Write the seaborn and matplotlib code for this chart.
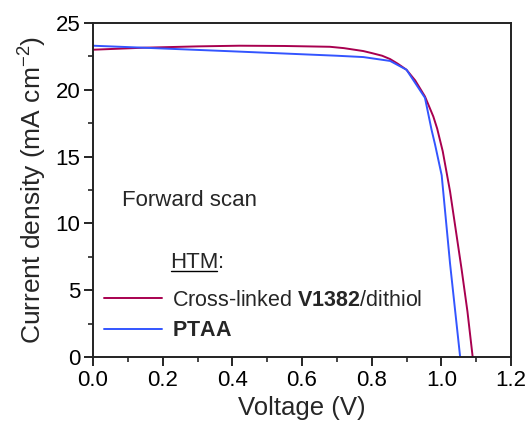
import numpy as np
import pandas as pd
import matplotlib
matplotlib.use("Agg")
import matplotlib.pyplot as plt
import seaborn as sns
from matplotlib.ticker import MultipleLocator
from matplotlib.lines import Line2D

# Data
v_red = [0.0, 0.145, 0.3, 0.42, 0.55, 0.68, 0.72, 0.776, 0.8, 0.83, 0.853, 0.875, 0.9, 0.925,
         0.953, 0.977, 0.988, 1.004, 1.025, 1.058, 1.075, 1.09]
j_red = [23.0, 23.15, 23.25, 23.3, 23.28, 23.22, 23.12, 22.9, 22.75, 22.55, 22.3, 21.95, 21.5, 20.7,
         19.5, 18.0, 17.1, 15.4, 12.4, 6.6, 3.4, 0.0]
v_blue = [0.0, 0.145, 0.4, 0.7, 0.776, 0.853, 0.9, 0.953, 0.972, 0.982, 1.001, 1.025, 1.054]
j_blue = [23.3, 23.15, 22.88, 22.55, 22.45, 22.16, 21.5, 19.4, 17.0, 15.9, 13.6, 7.0, 0.0]
series_names = ["Cross-linked V1382/dithiol", "PTAA"]
series_labels = [r"Cross-linked $\mathbf{V1382}$/dithiol", r"$\mathbf{PTAA}$"]
colors = ["#A8004F", "#3355FF"]
x_ticks = [0.0, 0.2, 0.4, 0.6, 0.8, 1.0, 1.2]
y_ticks = [0, 5, 10, 15, 20, 25]

df = pd.concat([
    pd.DataFrame({"V": v_red, "J": j_red, "HTM": series_names[0]}),
    pd.DataFrame({"V": v_blue, "J": j_blue, "HTM": series_names[1]}),
], ignore_index=True)

sns.set_theme(style="ticks")
plt.rcParams["font.family"] = ["Liberation Sans", "DejaVu Sans"]
plt.rcParams["mathtext.fontset"] = "custom"
plt.rcParams["mathtext.rm"] = "Liberation Sans"
plt.rcParams["mathtext.bf"] = "Liberation Sans:bold"
plt.rcParams["mathtext.it"] = "Liberation Sans:italic"

fig = plt.figure(figsize=(5.31, 4.32), dpi=100)
ax = fig.add_axes([93/531, 1-357/432, (511-93)/531, (357-23)/432])

sns.lineplot(data=df, x="V", y="J", hue="HTM", palette=dict(zip(series_names, colors)),
             sort=False, estimator=None, linewidth=1.4, ax=ax, legend=False)

ax.set_xlim(0, 1.2)
ax.set_ylim(0, 25)
ax.set_xticks(x_ticks)
ax.set_xticklabels([f"{t:.1f}" for t in x_ticks])
ax.set_yticks(y_ticks)
ax.xaxis.set_minor_locator(MultipleLocator(0.1))
ax.yaxis.set_minor_locator(MultipleLocator(2.5))
ax.tick_params(axis="both", which="major", direction="out", length=6.5, width=1.2,
               labelsize=16, colors="black", top=False, right=False, pad=2.5)
ax.tick_params(axis="both", which="minor", direction="out", length=3.5, width=1.2,
               top=False, right=False)
for s in ax.spines.values():
    s.set_linewidth(1.4)
    s.set_color("#222222")

ax.set_xlabel("Voltage (V)", fontsize=18.5, labelpad=4)
ax.set_ylabel(r"Current density (mA cm$^{-2}$)", fontsize=19, labelpad=5)

def ax_y(py):
    return 1 - (py - 23) / (357 - 23)

def ax_x(px):
    return (px - 93) / (511 - 93)

ax.text(ax_x(122), ax_y(201), "Forward scan",
        transform=ax.transAxes, fontsize=16, va="center", ha="left")
htm = ax.text(ax_x(170), ax_y(263), "HTM",
              transform=ax.transAxes, fontsize=16, va="center", ha="left")
fig.canvas.draw()
r = fig.canvas.get_renderer()
bb = htm.get_window_extent(r)
inv = fig.transFigure.inverted()
(x0, y0), (x1, y1) = inv.transform([(bb.x0, bb.y0), (bb.x1, bb.y1)])
fig.text(x1, y0, ":", fontsize=16, va="bottom", ha="left")
yl = inv.transform((0, bb.y0 + 2.5))[1]
fig.add_artist(Line2D([x0 + 0.002, x1 - 0.002], [yl, yl], color="black", linewidth=1.0,
                      transform=fig.transFigure))

handles = [Line2D([], [], color=c, linewidth=1.4) for c in colors]
ax.legend(handles, series_labels, loc="center left", frameon=False,
          bbox_to_anchor=(ax_x(104), ax_y(315.5)), fontsize=15.5,
          handlelength=2.7, handletextpad=0.45, labelspacing=0.45,
          borderaxespad=0, borderpad=0)

fig.savefig("out.png", dpi=100)
